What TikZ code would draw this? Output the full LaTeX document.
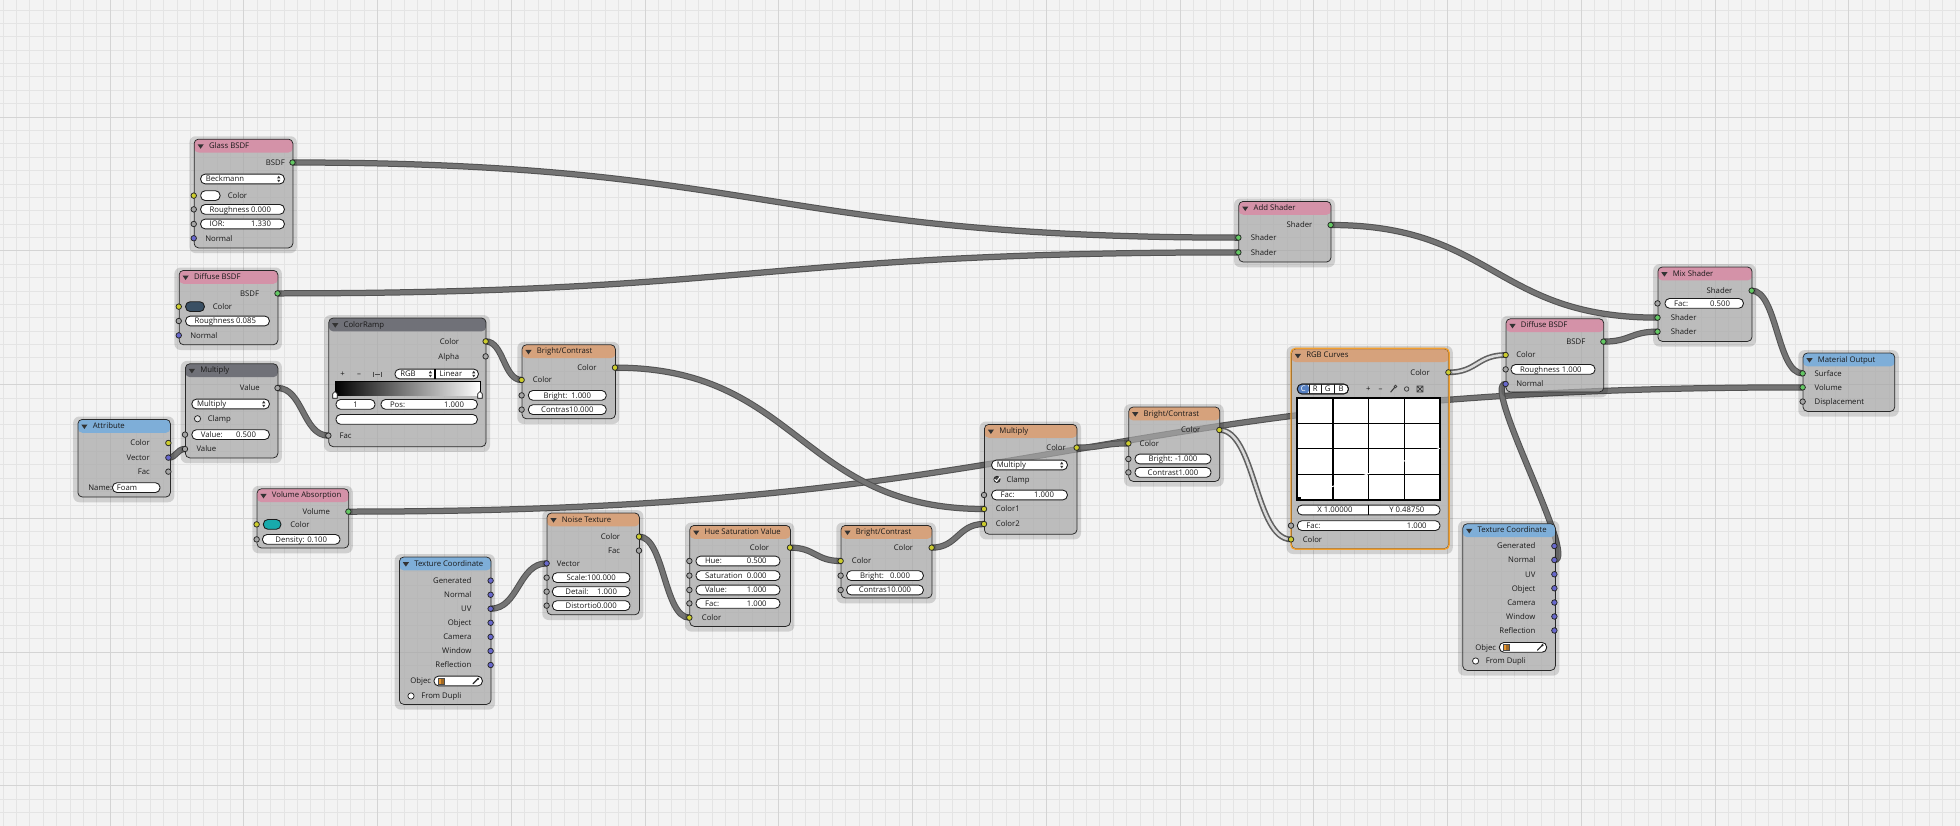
\documentclass[tikz,border=0pt]{standalone}
\usepackage{fontspec}
\newfontfamily\uifont{Open Sans}
\usetikzlibrary{calc}
\pgfdeclarelayer{grid}
\pgfdeclarelayer{wires}
\pgfsetlayers{grid,wires,main}

\definecolor{canvas}{RGB}{243,243,243}
\definecolor{gridminor}{RGB}{228,228,228}
\definecolor{gridmajor}{RGB}{212,212,212}
\definecolor{nodebg}{RGB}{166,166,166}
\definecolor{nodeedge}{RGB}{40,40,40}
\definecolor{hdrshader}{RGB}{212,146,168}
\definecolor{hdrconv}{RGB}{112,113,120}
\definecolor{hdrcolor}{RGB}{214,162,124}
\definecolor{hdrinput}{RGB}{126,174,216}
\definecolor{selorange}{RGB}{242,160,48}
\definecolor{sockyellow}{RGB}{204,204,46}
\definecolor{sockgreen}{RGB}{99,199,99}
\definecolor{sockblue}{RGB}{104,104,204}
\definecolor{sockgrey}{RGB}{165,165,165}
\definecolor{wirecol}{RGB}{116,116,116}
\definecolor{wireedge}{RGB}{82,82,82}
\definecolor{wirehl}{RGB}{218,218,218}
\definecolor{fieldedge}{RGB}{28,28,28}
\definecolor{slate}{RGB}{58,80,100}
\definecolor{tealswatch}{RGB}{24,170,172}
\definecolor{cbtn}{RGB}{86,128,194}
\definecolor{cubeorange}{RGB}{232,150,48}

\newcommand{\ui}{\uifont\fontsize{6.2}{7.4}\selectfont}

\tikzstyle{lbl} = [font=\ui, text=black!90, inner sep=0pt, text height=4.4pt, text depth=0pt]
\tikzstyle{bbody} = [draw=nodeedge, line width=0.6pt, fill=nodebg, fill opacity=0.7, rounded corners=3.5pt, inner sep=0pt, anchor=north west]
\tikzstyle{sock} = [circle, draw=black!85, line width=0.6pt, minimum size=4.4pt, inner sep=0pt]
\tikzstyle{sockC} = [sock, fill=sockyellow]
\tikzstyle{sockS} = [sock, fill=sockgreen]
\tikzstyle{sockV} = [sock, fill=sockblue]
\tikzstyle{sockF} = [sock, fill=sockgrey]
\tikzstyle{fieldbox} = [draw=fieldedge, line width=0.7pt, fill=white, rounded corners=3.6pt]
\tikzstyle{swatch} = [fieldbox, minimum height=7.8pt, inner sep=0pt]
\tikzstyle{check} = [circle, draw=black!85, line width=0.6pt, fill=black!10, minimum size=5pt, inner sep=0pt]
\tikzstyle{wire} = [draw=wireedge, line width=0.8pt, double=wirecol, double distance=3.4pt]
\tikzstyle{wirehot} = [draw=black!62, line width=1.3pt, double=wirehl, double distance=2pt]
\tikzset{noodle/.style={to path={let \p1=(\tikztostart), \p2=(\tikztotarget), \n1={max(0.5*abs(\x2-\x1),4)} in .. controls +(\n1,0) and +(-\n1,0) .. (\tikztotarget)}}}

% node frame: name, left, top, right, bottom, header colour, title
\newcommand{\bframe}[7]{%
  \fill[black, opacity=0.14, even odd rule] [rounded corners=5pt] (#2-3.5,#3-2) rectangle (#4+3.5,#5+4.5) [rounded corners=3.5pt] (#2,#3) rectangle (#4,#5);
  \node[bbody, minimum width={(#4-#2)*1pt}, minimum height={(#5-#3)*1pt},
    path picture={\fill[#6, fill opacity=1] (path picture bounding box.north west) rectangle ([yshift=-10.7pt]path picture bounding box.north east);}] (#1) at (#2,#3) {};
  \fill[black!80] ([xshift=3pt,yshift=-4.4pt]#1.north west) -- ++(5pt,0pt) -- ++(-2.5pt,-3.6pt) -- cycle;
  \node[lbl, anchor=west] at ([xshift=12pt,yshift=-5.4pt]#1.north west) {#7};}
% slider: left, right, y, label, value
\newcommand{\bslider}[5]{%
  \draw[fieldbox] (#1,#3-3.9) rectangle (#2,#3+3.9);
  \node[lbl, anchor=west] at (#1+7,#3) {#4};
  \node[lbl, anchor=east] at (#2-10.5,#3) {#5};}
% number field: left, right, y, text
\newcommand{\bnumfield}[4]{%
  \draw[fieldbox] (#1,#3-3.9) rectangle (#2,#3+3.9);
  \node[lbl] at ({(#1+#2)/2},#3) {#4};}
\newcommand{\bupdown}[2]{%
  \fill[black!80] (#1-1.3,#2-0.6) -- (#1+1.3,#2-0.6) -- (#1,#2-2.6) -- cycle;
  \fill[black!80] (#1-1.3,#2+0.6) -- (#1+1.3,#2+0.6) -- (#1,#2+2.6) -- cycle;}
% menu: left, right, y, text
\newcommand{\bmenu}[4]{%
  \draw[fieldbox] (#1,#3-3.9) rectangle (#2,#3+3.9);
  \node[lbl, anchor=west] at (#1+4,#3) {#4};
  \bupdown{#2-4.5}{#3}}
\newcommand{\cubeicon}[2]{%
  \fill[cubeorange] (#1-2.4,#2-2.4) rectangle (#1+2.4,#2+2.4);
  \fill[cubeorange!70!black] (#1,#2-1.6) rectangle (#1+2.4,#2+2.4);
  \draw[black!70, line width=0.4pt] (#1-2.4,#2-2.4) rectangle (#1+2.4,#2+2.4);}
\newcommand{\pipette}[2]{%
  \draw[black!85, line width=0.9pt, line cap=round] (#1-2.2,#2+2.2) -- (#1+1.6,#2-1.6);
  \fill[black!85] (#1+1.8,#2-1.8) circle (1pt);}

\begin{document}
\begin{tikzpicture}[x=1pt, y=-1pt]
\useasboundingbox (0,0) rectangle (1568,660.8);

\begin{pgfonlayer}{grid}
  \fill[canvas] (0,0) rectangle (1568,660.8);
  \foreach \k in {0,...,146}
    \draw[gridminor, line width=0.6pt] ({2.4+10.7*\k},0) -- ++(0,660.8);
  \foreach \k in {0,...,61}
    \draw[gridminor, line width=0.6pt] (0,{8+10.7*\k}) -- ++(1568,0);
  \foreach \k in {0,...,13}
    \draw[gridmajor, line width=0.7pt] ({88+107*\k},0) -- ++(0,660.8);
  \foreach \k in {0,...,5}
    \draw[gridmajor, line width=0.7pt] (0,{93.6+107*\k}) -- ++(1568,0);
\end{pgfonlayer}

% Glass BSDF
\bframe{glass}{155}{111}{234}{198}{hdrshader}{Glass BSDF}
\node[sockS] (glass-bsdf) at (234,130) {};
\node[lbl, anchor=east] at (228,130) {BSDF};
\bmenu{160.5}{227.5}{143.2}{Beckmann}
\node[sockC] (glass-color) at (155,156.5) {};
\node[swatch, fill=white, minimum width=15.5pt] (glass-swatch) at (168.3,156.5) {};
\node[lbl, anchor=west] at (182,156.5) {Color};
\node[sockF] (glass-rough) at (155,167.5) {};
\bslider{160.5}{227.5}{167.5}{Roughness}{0.000}
\node[sockF] (glass-ior) at (155,179.2) {};
\bslider{160.5}{227.5}{179.2}{IOR:}{1.330}
\node[sockV] (glass-normal) at (155,190.6) {};
\node[lbl, anchor=west] at (164,190.6) {Normal};

% Diffuse BSDF (left)
\bframe{diffl}{143}{216}{222}{275.5}{hdrshader}{Diffuse BSDF}
\node[sockS] (diffl-bsdf) at (222,234.7) {};
\node[lbl, anchor=east] at (207.5,234.7) {BSDF};
\node[sockC] (diffl-color) at (143,245.3) {};
\node[swatch, fill=slate, minimum width=15pt] (diffl-swatch) at (156,245.3) {};
\node[lbl, anchor=west] at (170,245.3) {Color};
\node[sockF] (diffl-rough) at (143,256.8) {};
\bslider{148.5}{215.5}{256.8}{Roughness}{0.085}
\node[sockV] (diffl-normal) at (143,268.3) {};
\node[lbl, anchor=west] at (152,268.3) {Normal};

% Multiply (math)
\bframe{math}{148}{290.7}{222}{366}{hdrconv}{Multiply}
\node[sockF] (math-out) at (222,310.4) {};
\node[lbl, anchor=east] at (208,310.4) {Value};
\bmenu{153.5}{215.5}{323.2}{Multiply}
\node[check] (math-clamp) at (158,335) {};
\node[lbl, anchor=west] at (166,335) {Clamp};
\node[sockF] (math-a) at (148,347.7) {};
\bslider{153.5}{215.5}{347.7}{Value:}{0.500}
\node[sockF] (math-b) at (148,359.2) {};
\node[lbl, anchor=west] at (157,359.2) {Value};

% Attribute
\bframe{attr}{62}{335.2}{136}{397.3}{hdrinput}{Attribute}
\node[sockC] (attr-color) at (134.7,354.4) {};
\node[lbl, anchor=east] at (120,354.4) {Color};
\node[sockV] (attr-vector) at (134.7,366.1) {};
\node[lbl, anchor=east] at (120,366.1) {Vector};
\node[sockF] (attr-fac) at (134.7,377.3) {};
\node[lbl, anchor=east] at (120,377.3) {Fac};
\node[lbl, anchor=west] at (70.5,390.1) {Name:};
\draw[fieldbox] (90,386.2) rectangle (128,394);
\node[lbl, anchor=west] at (93.3,390.1) {Foam};

% ColorRamp
\bframe{ramp}{262.7}{254.1}{388.5}{357}{hdrconv}{ColorRamp}
\node[sockC] (ramp-color) at (388.5,273.1) {};
\node[lbl, anchor=east] at (367.5,273.1) {Color};
\node[sockF] (ramp-alpha) at (388.5,285.1) {};
\node[lbl, anchor=east] at (367.5,285.1) {Alpha};
\node[lbl] at (274.1,299.2) {+};
\node[lbl] at (287.2,299.2) {–};
\draw[black!70, line width=0.6pt] (298.7,297.2) -- (298.7,301.2) (305.1,297.2) -- (305.1,301.2) (299.7,299.2) -- (304.1,299.2);
\draw[fieldbox] (316,295.3) rectangle (382.7,303.1);
\draw[black, line width=1pt] (348,295.3) -- (348,303.1);
\node[lbl, anchor=west] at (320,299.2) {RGB};
\bupdown{344.3}{299.2}
\node[lbl, anchor=west] at (351.5,299.2) {Linear};
\bupdown{379}{299.2}
\shade[left color=black, right color=white] (268,305.3) rectangle (384,316);
\draw[black, line width=0.8pt] (268,316) |- (384,304.8) -- (384,316);
\foreach \mx in {268,384}
  \draw[fill=white, line width=0.5pt] (\mx-1.8,318.6) -- (\mx-1.8,315) -- (\mx,313.2) -- (\mx+1.8,315) -- (\mx+1.8,318.6) -- cycle;
\bnumfield{268.8}{300}{323.5}{1}
\bslider{304.8}{381.9}{323.5}{Pos:}{1.000}
\draw[fieldbox] (268.8,331.6) rectangle (381.9,339.4);
\node[sockF] (ramp-fac) at (262.7,348.5) {};
\node[lbl, anchor=west] at (271.5,348.5) {Fac};

% Bright/Contrast (upper left)
\bframe{bca}{417.3}{275.5}{492}{334.7}{hdrcolor}{Bright/Contrast}
\node[sockC] (bca-out) at (492,294.1) {};
\node[lbl, anchor=east] at (477.5,294.1) {Color};
\node[sockC] (bca-in) at (417.3,304) {};
\node[lbl, anchor=west] at (426,304) {Color};
\node[sockF] (bca-bright) at (417.3,316.3) {};
\bnumfield{422.7}{485}{316.3}{Bright:\hspace{3pt}1.000}
\node[sockF] (bca-contrast) at (417.3,327.7) {};
\bnumfield{422.7}{485}{327.7}{Contras10.000}

% Volume Absorption
\bframe{vol}{205.3}{390.7}{278.7}{438.1}{hdrshader}{Volume Absorption}
\node[sockS] (vol-out) at (278.7,409.3) {};
\node[lbl, anchor=east] at (264.2,409.3) {Volume};
\node[sockC] (vol-color) at (205.3,419.5) {};
\node[swatch, fill=tealswatch, minimum width=14pt] (vol-swatch) at (217.7,419.5) {};
\node[lbl, anchor=west] at (232,419.5) {Color};
\node[sockF] (vol-density) at (205.3,431.5) {};
\bnumfield{210}{272}{431.5}{Density: 0.100}

% Texture Coordinate (left)
\bframe{tcl}{319.2}{445.3}{392.5}{563.2}{hdrinput}{Texture Coordinate}
\foreach \lab/\yy/\nm in {Generated/464.5/gen, Normal/475.8/nor, UV/487/uv, Object/498.2/obj, Camera/509.5/cam, Window/520.8/win, Reflection/532/ref} {
  \node[sockV] (tcl-\nm) at (392.5,\yy) {};
  \node[lbl, anchor=east] at (377.3,\yy) {\lab};
}
\node[lbl, anchor=west] at (328,544.8) {Objec};
\draw[fieldbox] (347.2,540.9) rectangle (385.9,548.7);
\cubeicon{352.8}{544.8}
\pipette{380.6}{544.8}
\node[check, fill=white] (tcl-dupli) at (328.8,556.8) {};
\node[lbl, anchor=west] at (336.8,556.8) {From Dupli};

% Noise Texture
\bframe{noise}{437.3}{410.1}{511.2}{491.5}{hdrcolor}{Noise Texture}
\node[sockC] (noise-color) at (511.2,429.3) {};
\node[lbl, anchor=east] at (496.3,429.3) {Color};
\node[sockF] (noise-fac) at (511.2,440.5) {};
\node[lbl, anchor=east] at (496.3,440.5) {Fac};
\node[sockV] (noise-vector) at (437.3,450.7) {};
\node[lbl, anchor=west] at (445.3,450.7) {Vector};
\node[sockF] (noise-scale) at (437.3,462.1) {};
\bnumfield{441.9}{504}{462.1}{Scale:100.000}
\node[sockF] (noise-detail) at (437.3,473.3) {};
\bnumfield{441.9}{504}{473.3}{Detail:\hspace{7pt}1.000}
\node[sockF] (noise-dist) at (437.3,484.5) {};
\bnumfield{441.9}{504}{484.5}{Distortio0.000}

% Hue Saturation Value
\bframe{hsv}{551.5}{420}{632}{500.8}{hdrcolor}{Hue Saturation Value}
\node[sockC] (hsv-out) at (632,438.1) {};
\node[lbl, anchor=east] at (615.5,438.1) {Color};
\node[sockF] (hsv-hue) at (551.5,448.8) {};
\bslider{556.8}{624}{448.8}{Hue:}{0.500}
\node[sockF] (hsv-sat) at (551.5,460.5) {};
\bslider{556.8}{624}{460.5}{Saturation}{0.000}
\node[sockF] (hsv-val) at (551.5,472) {};
\bslider{556.8}{624}{472}{Value:}{1.000}
\node[sockF] (hsv-fac) at (551.5,482.7) {};
\bslider{556.8}{624}{482.7}{Fac:}{1.000}
\node[sockC] (hsv-in) at (551.5,494.1) {};
\node[lbl, anchor=west] at (561.3,494.1) {Color};

% Bright/Contrast (lower)
\bframe{bcb}{672.5}{420}{745.3}{478.1}{hdrcolor}{Bright/Contrast}
\node[sockC] (bcb-out) at (745.3,438.1) {};
\node[lbl, anchor=east] at (730.7,438.1) {Color};
\node[sockC] (bcb-in) at (672.5,448.8) {};
\node[lbl, anchor=west] at (681.3,448.8) {Color};
\node[sockF] (bcb-bright) at (672.5,460.5) {};
\bnumfield{677.3}{738.7}{460.5}{Bright:\hspace{5pt}0.000}
\node[sockF] (bcb-contrast) at (672.5,472) {};
\bnumfield{677.3}{738.7}{472}{Contras10.000}

% Multiply (mix)
\bframe{mulc}{787.2}{339.2}{861.3}{427}{hdrcolor}{Multiply}
\node[sockC] (mulc-out) at (861.3,358.1) {};
\node[lbl, anchor=east] at (852.8,358.1) {Color};
\bmenu{793.3}{853.9}{372}{Multiply}
\node[check, fill=black!72] (mulc-clamp) at (797.6,383.5) {};
\draw[white, line width=0.8pt] (795.7,383.4) -- (797.3,385.1) -- (799.9,381.6);
\node[lbl, anchor=west] at (805,383.5) {Clamp};
\node[sockF] (mulc-fac) at (787.2,396) {};
\bslider{793.3}{853.9}{396}{Fac:}{1.000}
\node[sockC] (mulc-c1) at (787.2,407.2) {};
\node[lbl, anchor=west] at (796.5,407.2) {Color1};
\node[sockC] (mulc-c2) at (787.2,419.2) {};
\node[lbl, anchor=west] at (796.5,419.2) {Color2};

% Bright/Contrast (right)
\bframe{bcc}{902.7}{325.3}{975.5}{384.8}{hdrcolor}{Bright/Contrast}
\node[sockC] (bcc-out) at (975.5,344) {};
\node[lbl, anchor=east] at (960.5,344) {Color};
\node[sockC] (bcc-in) at (902.7,354.7) {};
\node[lbl, anchor=west] at (911.5,354.7) {Color};
\node[sockF] (bcc-bright) at (902.7,367.2) {};
\bnumfield{908}{968.8}{367.2}{Bright:\hspace{2pt}-1.000}
\node[sockF] (bcc-contrast) at (902.7,377.9) {};
\bnumfield{908}{968.8}{377.9}{Contrast1.000}

% RGB Curves
\bframe{curves}{1032.8}{278.7}{1158.7}{438.7}{hdrcolor}{RGB Curves}
\draw[selorange, line width=1.1pt, rounded corners=3.5pt] (curves.north west) rectangle (curves.south east);
\node[sockC] (curves-out) at (1158.7,297.9) {};
\node[lbl, anchor=east] at (1144,297.9) {Color};
\draw[fieldbox] (1037.9,307.3) rectangle (1078.7,315.1);
\fill[cbtn, rounded corners=3.6pt] (1037.9,307.3) rectangle (1047.5,315.1);
\draw[fieldedge, line width=0.7pt, rounded corners=3.6pt] (1037.9,307.3) rectangle (1078.7,315.1);
\draw[fieldedge, line width=0.6pt] (1047.5,307.3) -- ++(0,7.8) (1057.2,307.3) -- ++(0,7.8) (1067.6,307.3) -- ++(0,7.8);
\node[lbl, text=white] at (1042.7,311.2) {C};
\node[lbl] at (1052.2,311.2) {R};
\node[lbl] at (1062.2,311.2) {G};
\node[lbl] at (1072.9,311.2) {B};
\node[lbl] at (1094.7,311.2) {+};
\node[lbl] at (1104.5,311.2) {–};
\draw[black!75, line width=0.9pt, line cap=round] (1112.6,313.6) -- (1116,309.6);
\draw[black!75, line width=0.6pt] (1116.4,309.2) circle (1.1pt);
\draw[black!75, line width=0.6pt] (1125.3,311.2) circle (1.8pt);
\draw[black!75, line width=0.6pt] (1133.8,309) -- (1138.2,313.4) (1133.8,313.4) -- (1138.2,309) (1133.6,308.8) rectangle (1138.4,313.6);
\fill[white] (1037.9,318.1) rectangle (1152,400);
\draw[black, line width=1.1pt] (1066.4,318.1) -- (1066.4,400) (1095,318.1) -- (1095,400) (1123.5,318.1) -- (1123.5,400)
  (1037.9,338.6) -- (1152,338.6) (1037.9,359) -- (1152,359) (1037.9,379.5) -- (1152,379.5);
\draw[black, line width=1.6pt] (1037.9,318.1) rectangle (1152,400);
\draw[white, line width=0.8pt] (1039.5,398.6) -- (1152,358.6);
\fill[black] (1038.6,397.3) rectangle (1041,399.7);
\draw[fieldbox] (1037.9,404.1) rectangle (1152,411.9);
\draw[black, line width=1pt] (1094.5,404.1) -- (1094.5,411.9);
\node[lbl] at (1068,408) {X 1.00000};
\node[lbl] at (1125.5,408) {Y 0.48750};
\node[sockF] (curves-fac) at (1032.8,420.5) {};
\bslider{1037.9}{1152}{420.5}{Fac:}{1.000}
\node[sockC] (curves-in) at (1032.8,431.5) {};
\node[lbl, anchor=west] at (1042,431.5) {Color};

% Diffuse BSDF (right)
\bframe{diffr}{1204.5}{254.7}{1282.7}{313.3}{hdrshader}{Diffuse BSDF}
\node[sockS] (diffr-bsdf) at (1282.7,273.3) {};
\node[lbl, anchor=east] at (1268.5,273.3) {BSDF};
\node[sockC] (diffr-color) at (1204.5,284) {};
\node[lbl, anchor=west] at (1212.8,284) {Color};
\node[sockF] (diffr-rough) at (1204.5,295.5) {};
\bslider{1208.8}{1276}{295.5}{Roughness}{1.000}
\node[sockV] (diffr-normal) at (1204.5,307.2) {};
\node[lbl, anchor=west] at (1212.8,307.2) {Normal};

% Add Shader
\bframe{add}{990.7}{160.8}{1064.5}{209.3}{hdrshader}{Add Shader}
\node[sockS] (add-out) at (1064.5,180) {};
\node[lbl, anchor=east] at (1050,180) {Shader};
\node[sockS] (add-in1) at (990.7,190.1) {};
\node[lbl, anchor=west] at (1000.5,190.1) {Shader};
\node[sockS] (add-in2) at (990.7,201.9) {};
\node[lbl, anchor=west] at (1000.5,201.9) {Shader};

% Mix Shader
\bframe{mixsh}{1326}{213.3}{1401.3}{272.8}{hdrshader}{Mix Shader}
\node[sockS] (mixsh-out) at (1401.3,232.5) {};
\node[lbl, anchor=east] at (1386,232.5) {Shader};
\node[sockF] (mixsh-fac) at (1326,242.7) {};
\bslider{1332}{1394.7}{242.7}{Fac:}{0.500}
\node[sockS] (mixsh-in1) at (1326,254.1) {};
\node[lbl, anchor=west] at (1336.5,254.1) {Shader};
\node[sockS] (mixsh-in2) at (1326,265.3) {};
\node[lbl, anchor=west] at (1336.5,265.3) {Shader};

% Material Output
\bframe{matout}{1442.1}{282.1}{1515.5}{328.8}{hdrinput}{Material Output}
\node[sockS] (matout-surface) at (1442.1,298.7) {};
\node[lbl, anchor=west] at (1451.5,298.7) {Surface};
\node[sockS] (matout-volume) at (1442.1,309.9) {};
\node[lbl, anchor=west] at (1451.5,309.9) {Volume};
\node[sockF] (matout-disp) at (1442.1,321.3) {};
\node[lbl, anchor=west] at (1451.5,321.3) {Displacement};

% Texture Coordinate (right)
\bframe{tcr}{1169.9}{418.7}{1244}{536}{hdrinput}{Texture Coordinate}
\foreach \lab/\yy/\nm in {Generated/436.8/gen, Normal/448/nor, UV/459.4/uv, Object/470.6/obj, Camera/482/cam, Window/493.2/win, Reflection/504.4/ref} {
  \node[sockV] (tcr-\nm) at (1243.5,\yy) {};
  \node[lbl, anchor=east] at (1228.5,\yy) {\lab};
}
\node[lbl, anchor=west] at (1180,517.9) {Objec};
\draw[fieldbox] (1199.5,514) rectangle (1237.3,521.8);
\cubeicon{1204.8}{517.9}
\pipette{1232.2}{517.9}
\node[check, fill=white] (tcr-dupli) at (1180.5,528.8) {};
\node[lbl, anchor=west] at (1188.5,528.8) {From Dupli};

% links
\begin{pgfonlayer}{wires}
  \draw[wire] (glass-bsdf.center) to[noodle] (add-in1.center);
  \draw[wire] (diffl-bsdf.center) to[noodle] (add-in2.center);
  \draw[wire] (add-out.center) to[noodle] (mixsh-in1.center);
  \draw[wire] (diffr-bsdf.center) to[noodle] (mixsh-in2.center);
  \draw[wire] (mixsh-out.center) to[noodle] (matout-surface.center);
  \draw[wire] (vol-out.center) to[noodle] (matout-volume.center);
  \draw[wire] (attr-vector.center) to[noodle] (math-b.center);
  \draw[wire] (math-out.center) to[noodle] (ramp-fac.center);
  \draw[wire] (ramp-color.center) to[noodle] (bca-in.center);
  \draw[wire] (bca-out.center) to[noodle] (mulc-c1.center);
  \draw[wire] (tcl-uv.center) to[noodle] (noise-vector.center);
  \draw[wire] (noise-color.center) to[noodle] (hsv-in.center);
  \draw[wire] (hsv-out.center) to[noodle] (bcb-in.center);
  \draw[wire] (bcb-out.center) to[noodle] (mulc-c2.center);
  \draw[wire] (mulc-out.center) to[noodle] (bcc-in.center);
  \draw[wirehot] (bcc-out.center) to[noodle] (curves-in.center);
  \draw[wirehot] (curves-out.center) to[noodle] (diffr-color.center);
  \draw[wire] (tcr-nor.center) to[noodle] (diffr-normal.center);
\end{pgfonlayer}

\end{tikzpicture}
\end{document}
